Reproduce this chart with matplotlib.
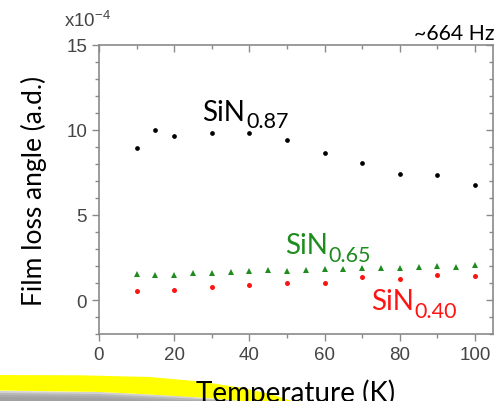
import matplotlib
matplotlib.use("Agg")
import matplotlib.pyplot as plt
from matplotlib.patches import Polygon
from matplotlib.ticker import MultipleLocator
from matplotlib.transforms import offset_copy

# Film loss angle (x1e-4) vs temperature for three SiN compositions
temp_087 = [10, 15, 20, 30, 40, 50, 60, 70, 80, 90, 100]
loss_087 = [8.92, 10.02, 9.63, 9.84, 9.82, 9.41, 8.65, 8.04, 7.41, 7.37, 6.75]

temp_065 = [10, 15, 20, 25, 30, 35, 40, 45, 50, 55, 60, 65, 70, 75, 80, 85, 90, 95, 100]
loss_065 = [1.55, 1.49, 1.47, 1.61, 1.61, 1.67, 1.71, 1.75, 1.71, 1.78, 1.80,
            1.84, 1.86, 1.88, 1.90, 1.94, 1.98, 1.96, 2.06]

temp_040 = [10, 20, 30, 40, 50, 60, 70, 80, 90, 100]
loss_040 = [0.51, 0.59, 0.76, 0.90, 1.00, 1.00, 1.33, 1.22, 1.49, 1.43]

x_ticks = [0, 20, 40, 60, 80, 100]
y_ticks = [0, 5, 10, 15]

TXT = 'Lato'
W, H = 504, 402
fig = plt.figure(figsize=(W / 100, H / 100), dpi=100)
pos = [99 / W, 1 - 335 / H, (493 - 99) / W, (335 - 46) / H]
ax = fig.add_axes(pos)

spine_col = '#8a8a8a'
tick_col = '#454545'
green = '#1e8c1e'
red = '#ff1414'

ax.plot(temp_087, loss_087, 'o', color='black', ms=3.4, mew=0, zorder=3)
ax.plot(temp_065, loss_065, '^', color=green, ms=4.0, mew=0, zorder=3)
ax.plot(temp_040, loss_040, 'o', color=red, ms=3.6, mew=0, zorder=3)

xlim = (0, 104.8)
ylim = (-2, 15)
ax.set_xlim(*xlim)
ax.set_ylim(*ylim)
ax.set_xticks(x_ticks)
ax.set_yticks(y_ticks)
ax.xaxis.set_minor_locator(MultipleLocator(10))
ax.yaxis.set_minor_locator(MultipleLocator(1))

for s in ax.spines.values():
    s.set_color(spine_col)
    s.set_linewidth(1.2)

ax.tick_params(which='both', direction='out', color=spine_col,
               labelcolor=tick_col, labelsize=13.5, width=1.0)
ax.tick_params(which='major', length=5)
ax.tick_params(which='minor', length=3)
for lab in ax.get_xticklabels() + ax.get_yticklabels():
    lab.set_fontfamily('Liberation Sans')

# overlay axes carrying inward ticks on the top and right edges
mirror = fig.add_axes(pos, frameon=False)
mirror.set_xlim(*xlim)
mirror.set_ylim(*ylim)
mirror.set_xticks(x_ticks)
mirror.set_yticks(y_ticks)
mirror.xaxis.set_minor_locator(MultipleLocator(10))
mirror.yaxis.set_minor_locator(MultipleLocator(1))
mirror.tick_params(which='both', direction='in', color=spine_col, width=1.0,
                   left=False, bottom=False, top=True, right=True,
                   labelleft=False, labelbottom=False)
mirror.tick_params(which='major', length=5)
mirror.tick_params(which='minor', length=3)
mirror.patch.set_visible(False)

ax.set_ylabel('Film loss angle (a.d.)', fontsize=19, family=TXT,
              color='black', labelpad=14)
ax.set_xlabel('Temperature (K)', fontsize=20, family=TXT,
              color='black', labelpad=11)

fig.text(64 / W, 1 - 27 / H, r'x10$^{\mathregular{-4}}$', fontsize=13.5,
         family='Liberation Sans', color=tick_col, ha='left', va='baseline')
fig.text(494 / W, 1 - 40 / H, '~664 Hz', fontsize=15.3, family=TXT,
         color='black', ha='right', va='baseline')

renderer = fig.canvas.get_renderer()


def formula(x, y, sub, color):
    main = ax.text(x, y, 'SiN', fontsize=20, family=TXT, color=color,
                   ha='left', va='baseline')
    w_px = main.get_window_extent(renderer=renderer).width
    tr = offset_copy(ax.transData, fig=fig, x=w_px * 72 / fig.dpi + 0.5,
                     y=-5.5, units='points')
    ax.text(x, y, sub, fontsize=15.5, family=TXT, color=color,
            ha='left', va='baseline', transform=tr)


formula(27.5, 10.6, '0.87', 'black')
formula(49.5, 2.75, '0.65', green)
formula(72.3, -0.55, '0.40', red)


# yellow swoosh with a soft shadow at the bottom-left
def px(points):
    return [(x / W, 1 - y / H) for x, y in points]


for off, a in [(0, 0.22), (2, 0.16), (4, 0.10), (6, 0.06)]:
    poly = Polygon(px([(0, 392 + off), (100, 393 + off), (180, 397 + off),
                       (240 - off * 2, 402), (0, 402)]),
                   closed=True, transform=fig.transFigure, facecolor='#303030',
                   edgecolor='none', alpha=a, zorder=-3)
    fig.patches.append(poly)

yellow = Polygon(px([(0, 376), (80, 376.3), (150, 378), (200, 382.5), (240, 388.5),
                     (270, 395), (292, 402), (242, 402), (200, 398.5),
                     (150, 395.5), (100, 393), (0, 391.5)]),
                 closed=True, transform=fig.transFigure, facecolor='#ffff00',
                 edgecolor='none', zorder=-1)
fig.patches.append(yellow)

fig.savefig('out.png', dpi=100)
